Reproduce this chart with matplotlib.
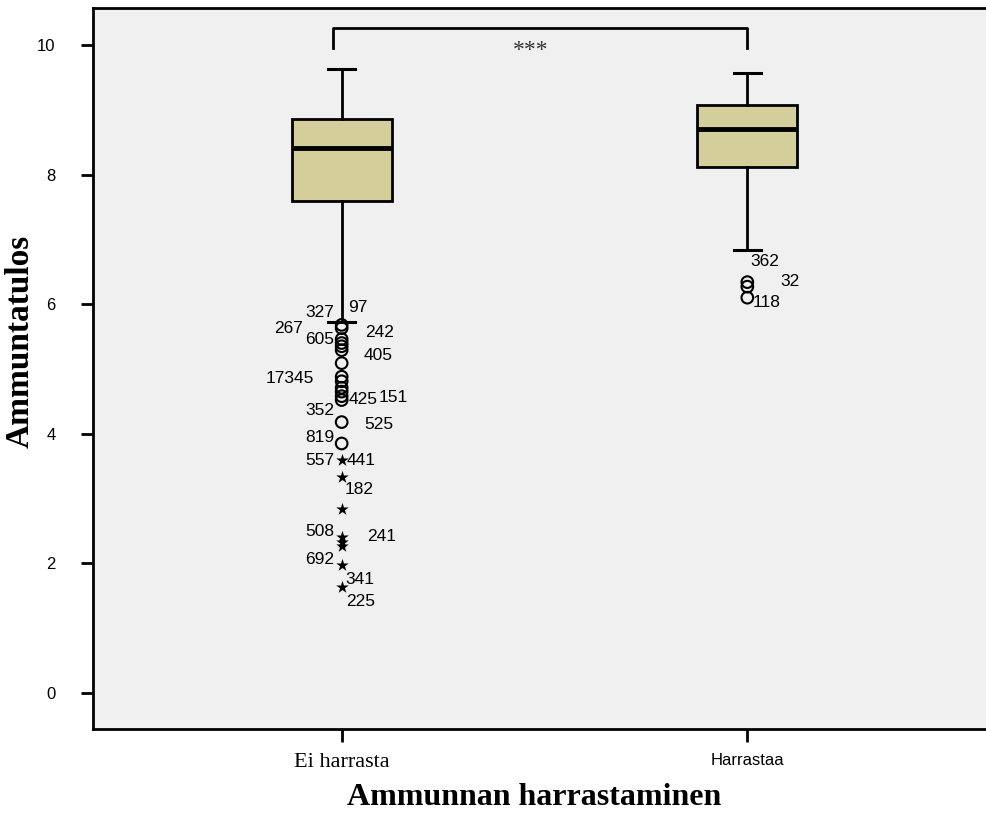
import numpy as np
import matplotlib
matplotlib.use('Agg')
import matplotlib.pyplot as plt

groups = ['Ei harrasta', 'Harrastaa']

# box statistics per group
q1 = [7.59, 8.12]
med = [8.41, 8.70]
q3 = [8.86, 9.07]
whislo = [5.73, 6.84]
whishi = [9.63, 9.57]

# outliers (circles) and extreme values (stars)
circles_g1 = [5.68, 5.63, 5.46, 5.40, 5.35, 5.29, 5.09, 4.88, 4.81, 4.71, 4.65,
              4.58, 4.52, 4.18, 3.85]
stars_g1 = [3.60, 3.33, 2.84, 2.41, 2.33, 2.27, 1.98, 1.64]
circles_g2 = [6.34, 6.27, 6.10]

# case numbers next to the outliers
case_labels = ['327', '97', '267', '605', '242', '405', '17345', '425', '151',
               '352', '525', '819', '557', '441', '182', '508', '241', '692',
               '341', '225', '362', '32', '118']
case_x = [0.946, 1.039, 0.870, 0.946, 1.094, 1.091, 0.872, 1.052, 1.126,
          0.946, 1.091, 0.946, 0.946, 1.049, 1.042, 0.946, 1.099, 0.946,
          1.044, 1.047, 2.042, 2.106, 2.047]
case_y = [5.864, 5.941, 5.617, 5.448, 5.556, 5.201, 4.846, 4.522, 4.552,
          4.352, 4.136, 3.935, 3.580, 3.580, 3.133, 2.485, 2.407, 2.052,
          1.744, 1.404, 6.651, 6.343, 6.019]

fig = plt.figure(figsize=(9.87, 8.23), dpi=100)
ax = fig.add_axes([93 / 987, 94 / 823, 903 / 987, 721 / 823])
ax.set_facecolor('#f0f0f0')

stats = []
for i in range(2):
    stats.append(dict(med=med[i], q1=q1[i], q3=q3[i],
                      whislo=whislo[i], whishi=whishi[i], fliers=[]))

ax.bxp(stats, positions=[1, 2], widths=0.246, capwidths=0.068,
       showfliers=False, patch_artist=True,
       boxprops=dict(facecolor='#d3ce9a', edgecolor='black', linewidth=2),
       medianprops=dict(color='black', linewidth=3.5),
       whiskerprops=dict(color='black', linewidth=2),
       capprops=dict(color='black', linewidth=2.2))

ax.scatter(np.ones(len(circles_g1)), circles_g1, s=70, facecolors='none',
           edgecolors='black', linewidths=1.5, zorder=3)
ax.scatter(np.full(len(circles_g2), 2.0), circles_g2, s=70, facecolors='none',
           edgecolors='black', linewidths=1.5, zorder=3)
ax.scatter(np.ones(len(stars_g1)), stars_g1, s=90, marker='*', c='black',
           linewidths=0, zorder=3)

for t, x, y in zip(case_labels, case_x, case_y):
    ax.text(x, y, t, ha='center', va='center', fontsize=12.5,
            family='Liberation Sans')

# significance bracket
ax.plot([0.978, 0.978, 2.0, 2.0], [9.95, 10.26, 10.26, 9.95], color='black',
        linewidth=2, clip_on=False)
ax.text(1.465, 9.91, '***', ha='center', va='center', fontsize=17,
        family='Liberation Serif', color='#333333')

ax.set_xlim(0.387, 2.613)
ax.set_ylim(-0.556, 10.57)
ax.set_yticks([0, 2, 4, 6, 8, 10])
ax.set_yticklabels(['0', '2', '4', '6', '8', '10'], family='Liberation Sans',
                   fontsize=12)
ax.set_xticks([1, 2])
ax.set_xticklabels(groups)
xt = ax.get_xticklabels()
xt[0].set_fontfamily('Liberation Serif')
xt[0].set_fontsize(16)
xt[1].set_fontfamily('Liberation Sans')
xt[1].set_fontsize(12)

ax.tick_params(axis='y', length=9, width=2, pad=18)
ax.tick_params(axis='x', length=9, width=2, pad=8)
for s in ['left', 'bottom', 'top', 'right']:
    ax.spines[s].set_linewidth(2)

ax.set_ylabel('Ammuntatulos', family='Liberation Serif', fontweight='bold',
              fontsize=24)
ax.yaxis.set_label_coords(-0.064, 0.538)
ax.set_xlabel('Ammunnan harrastaminen', family='Liberation Serif',
              fontweight='bold', fontsize=23)
ax.xaxis.set_label_coords(0.489, -0.075)

fig.savefig('out.png', dpi=100)
